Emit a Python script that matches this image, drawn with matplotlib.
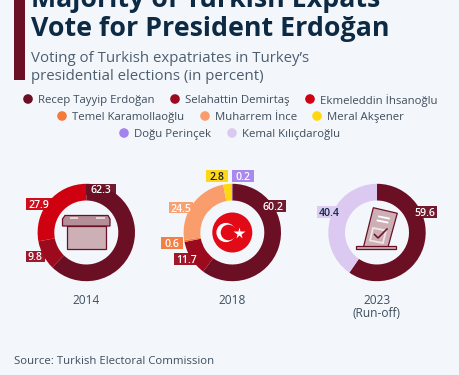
import matplotlib
matplotlib.use('Agg')
import matplotlib.pyplot as plt
from matplotlib.patches import Circle, Polygon, Rectangle

plt.rcParams['font.family'] = ['Open Sans', 'DejaVu Sans']

candidates = ['Recep Tayyip Erdoğan', 'Selahattin Demirtaş', 'Ekmeleddin İhsanoğlu',
              'Temel Karamollaoğlu', 'Muharrem İnce', 'Meral Akşener',
              'Doğu Perinçek', 'Kemal Kılıçdaroğlu']
colors = ['#6b0f24', '#9c0a1e', '#cf000f', '#f4793b', '#f99d6c', '#ffd60f', '#a583ee', '#dcc9f1']

years = ['2014', '2018', '2023\n(Run-off)']
votes_2014 = [62.3, 9.8, 27.9]
votes_2018 = [60.2, 11.7, 0.6, 24.5, 2.8, 0.2]
votes_2023 = [59.6, 40.4]
who_2014 = [0, 1, 2]
who_2018 = [0, 1, 3, 4, 5, 6]
who_2023 = [0, 7]

BG = '#f3f7fb'
W, H = 460, 375
R_OUT, R_IN = 48.7, 32

fig = plt.figure(figsize=(W / 100, H / 100), dpi=100, facecolor=BG)
ax = fig.add_axes([0, 0, 1, 1], zorder=5)
ax.set_xlim(0, W)
ax.set_ylim(H, 0)
ax.axis('off')


def donut(cx, cy, vals, who):
    a = fig.add_axes([(cx - R_OUT) / W, 1 - (cy + R_OUT) / H, 2 * R_OUT / W, 2 * R_OUT / H])
    a.pie(vals, colors=[colors[i] for i in who], startangle=90, counterclock=False, radius=1,
          wedgeprops={'width': (R_OUT - R_IN) / R_OUT, 'linewidth': 0})
    a.set_xlim(-1, 1)
    a.set_ylim(-1, 1)


def tag(x0, x1, y0, y1, txt, who, fg='white'):
    ax.add_patch(Rectangle((x0, y0), x1 - x0, y1 - y0, fc=colors[who], ec='none', alpha=0.95))
    ax.text((x0 + x1) / 2, (y0 + y1) / 2, txt, color=fg, fontsize=7.6, fontweight='semibold',
            ha='center', va='center_baseline')


donut(86.3, 232.5, votes_2014, who_2014)
donut(232.3, 232.5, votes_2018, who_2018)
donut(377, 232.5, votes_2023, who_2023)

# header
ax.add_patch(Rectangle((14, 0), 11, 80, fc='#6b0f24', ec='none'))
ax.text(31, 7, 'Majority of Turkish Expats', fontsize=19.3, fontweight='bold', color='#0d2a44', va='baseline')
ax.text(31, 36, 'Vote for President Erdoğan', fontsize=19.3, fontweight='bold', color='#0d2a44', va='baseline')
ax.text(31, 62, 'Voting of Turkish expatriates in Turkey’s', fontsize=10.8, color='#4d5e70', va='baseline')
ax.text(31, 80, 'presidential elections (in percent)', fontsize=10.8, color='#4d5e70', va='baseline')

# legend
legend_pos = [(28, 99), (175, 99), (310, 99), (62, 116), (205, 116), (317, 116), (124, 133), (232, 133)]
for (x, y), name, c in zip(legend_pos, candidates, colors):
    ax.add_patch(Circle((x, y), 4.8, fc=c, ec='none'))
    ax.text(x + 10, y, name, fontsize=8.2, color='#3f4d5c', ha='left', va='center_baseline')

# value tags
tag(86, 116, 184, 194.5, '62.3', who_2014[0])
tag(26, 52, 198, 210, '27.9', who_2014[2])
tag(26, 45, 251, 262, '9.8', who_2014[1])
tag(261, 286, 200, 212, '60.2', who_2018[0])
tag(174, 200, 253, 265, '11.7', who_2018[1])
tag(161, 183, 237, 249, '0.6', who_2018[2])
tag(169, 193, 202, 213, '24.5', who_2018[3])
tag(206, 228, 170, 182, '2.8', who_2018[4], fg='#1a1a1a')
tag(232, 254, 170, 182, '0.2', who_2018[5])
tag(412, 437, 206, 218, '59.6', who_2023[0])
tag(317, 341, 206, 218, '40.4', who_2023[1], fg='#0d2a44')

# ballot box
ec = '#6b0f24'
ax.add_patch(Rectangle((67, 226), 39, 23, fc='#cdb0b6', ec=ec, lw=0.9))
ax.add_patch(Polygon([(62.5, 226), (62.5, 219), (65, 215.5), (108, 215.5), (110, 219), (110, 226)],
                     fc='#b58f98', ec=ec, lw=0.9))
ax.add_patch(Rectangle((70, 217), 8, 1.8, fc='#e3d3d6', ec='none'))
ax.add_patch(Rectangle((96, 217), 9, 1.8, fc='#e3d3d6', ec='none'))

# flag
ax.add_patch(Circle((232.3, 232.5), 20, fc='#e30a17', ec='none'))
ax.add_patch(Circle((226, 232.5), 9.6, fc='white', ec='none'))
ax.add_patch(Circle((228.5, 232.5), 7.8, fc='#e30a17', ec='none'))
ax.plot([239.2], [232.5], marker='*', ms=8.5, mfc='white', mec='none')

# ballot paper
ax.add_patch(Polygon([(373.3, 207.7), (397.3, 213.3), (388, 247), (363.5, 247)], fc='#cdb0b6', ec=ec, lw=0.9))
ax.add_patch(Rectangle((355.7, 246), 40, 3, fc='#cdb0b6', ec=ec, lw=0.9))
ax.plot([379, 389], [216.5, 218.5], color='white', lw=1.3)
ax.plot([377.5, 387.5], [220.5, 222.5], color='white', lw=1.3)
ax.add_patch(Polygon([(373, 228), (386, 230.5), (383, 243), (370, 240.5)], fc='none', ec='#f0e6e8', lw=1.3))
ax.plot([374.5, 378, 387], [234.5, 238, 229], color='#6b0f24', lw=1.1)

# years
ax.text(86.3, 299, years[0], fontsize=8.6, color='#3f4d5c', ha='center', va='center_baseline')
ax.text(232.3, 299, years[1], fontsize=8.6, color='#3f4d5c', ha='center', va='center_baseline')
ax.text(377, 299, years[2].split('\n')[0], fontsize=8.6, color='#3f4d5c', ha='center', va='center_baseline')
ax.text(377, 312, years[2].split('\n')[1], fontsize=8.6, color='#3f4d5c', ha='center', va='center_baseline')

ax.text(14, 364, 'Source: Turkish Electoral Commission', fontsize=8.2, color='#3f4d5c', va='baseline')

fig.savefig('out.png', dpi=100, facecolor=BG)
